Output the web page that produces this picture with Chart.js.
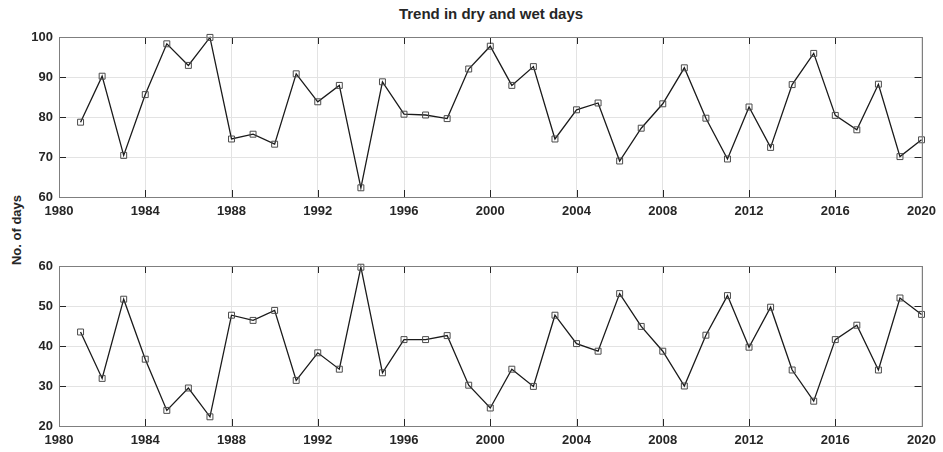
<!DOCTYPE html>
<html>
<head>
<meta charset="utf-8">
<script src="https://cdn.jsdelivr.net/npm/chart.js@4/dist/chart.umd.min.js"></script>
<style>
  body { margin: 0; background: #fff; width: 943px; height: 452px; position: relative; overflow: hidden; font-family: "Liberation Sans", Arial, sans-serif; }
  canvas { position: absolute; left: 0; }
  #title { position: absolute; left: 59px; width: 864px; top: 5px; text-align: center; font-weight: bold; font-size: 15px; color: #262626; }
  #ylabel { position: absolute; left: -83px; top: 222px; width: 200px; height: 16px; line-height: 16px; text-align: center; font-weight: bold; font-size: 13px; color: #262626; transform: rotate(-90deg); }
</style>
</head>
<body>
<div id="title">Trend in dry and wet days</div>
<div id="ylabel">No. of days</div>
<canvas id="dryDays" width="943" height="223" style="top:0"></canvas>
<canvas id="wetDays" width="943" height="223" style="top:229px"></canvas>
<script>
const years = [1981, 1982, 1983, 1984, 1985, 1986, 1987, 1988, 1989, 1990,
  1991, 1992, 1993, 1994, 1995, 1996, 1997, 1998, 1999, 2000,
  2001, 2002, 2003, 2004, 2005, 2006, 2007, 2008, 2009, 2010,
  2011, 2012, 2013, 2014, 2015, 2016, 2017, 2018, 2019, 2020]

const dryDays = [78.7, 90.2, 70.4, 85.6, 98.3, 92.9, 99.9, 74.5, 75.7, 73.2,
  90.8, 83.8, 87.9, 62.3, 88.8, 80.7, 80.5, 79.6, 92.0, 97.7,
  87.9, 92.6, 74.5, 81.8, 83.5, 69.0, 77.2, 83.3, 92.3, 79.7,
  69.5, 82.5, 72.4, 88.1, 95.9, 80.4, 76.8, 88.2, 70.1, 74.3]

const wetDays = [43.5, 31.9, 51.7, 36.7, 23.9, 29.5, 22.3, 47.7, 46.4, 48.9,
  31.4, 38.3, 34.2, 59.7, 33.3, 41.6, 41.6, 42.6, 30.2, 24.5,
  34.2, 29.9, 47.7, 40.6, 38.7, 53.1, 44.9, 38.7, 30.0, 42.7,
  52.6, 39.7, 49.7, 34.0, 26.2, 41.6, 45.2, 34.0, 52.0, 47.9]

const xTicksStep = 4

// matlab style box with inward tick marks
const boxTicks = {
  id: 'boxTicks',
  afterDraw(chart) {
    const ctx = chart.ctx
    const a = chart.chartArea
    const x = chart.scales.x, y = chart.scales.y
    ctx.save()
    ctx.strokeStyle = '#262626'
    ctx.lineWidth = 1
    ctx.beginPath()
    x.ticks.forEach(t => {
      const px = Math.round(x.getPixelForValue(t.value)) + 0.5
      ctx.moveTo(px, a.bottom); ctx.lineTo(px, a.bottom - 7)
      ctx.moveTo(px, a.top); ctx.lineTo(px, a.top + 7)
    })
    y.ticks.forEach(t => {
      const py = Math.round(y.getPixelForValue(t.value)) + 0.5
      ctx.moveTo(a.left, py); ctx.lineTo(a.left + 7, py)
      ctx.moveTo(a.right, py); ctx.lineTo(a.right - 7, py)
    })
    ctx.stroke()
    ctx.strokeStyle = '#7f7f7f'
    ctx.strokeRect(Math.round(a.left) + 0.5, Math.round(a.top) + 0.5, Math.round(a.right - a.left), Math.round(a.bottom - a.top))
    ctx.restore()
  }
}

function makeChart(id, values, yMin, yMax) {
  return new Chart(document.getElementById(id), {
    type: 'line',
    data: {
      datasets: [{
        data: years.map((yr, i) => ({ x: yr, y: values[i] })),
        borderColor: '#1a1a1a',
        borderWidth: 1.3,
        pointStyle: 'rect',
        pointRadius: 4.2,
        pointBorderColor: '#4a4a4a',
        pointBorderWidth: 1,
        pointBackgroundColor: 'rgba(0,0,0,0)',
        tension: 0,
        clip: false
      }]
    },
    options: {
      responsive: false,
      animation: false,
      layout: { padding: { top: 37, right: 20, bottom: 0, left: 0 } },
      plugins: { legend: { display: false }, tooltip: { enabled: false } },
      scales: {
        x: {
          type: 'linear', min: 1980, max: 2020,
          afterFit: s => { s.height = 26 },
          grid: { color: '#e3e3e3', drawTicks: false },
          border: { display: false },
          ticks: {
            stepSize: xTicksStep, padding: 7, color: '#262626',
            font: { family: 'Liberation Sans', size: 13, weight: 'bold' },
            callback: v => String(v)
          }
        },
        y: {
          min: yMin, max: yMax,
          afterFit: s => { s.width = 59 },
          grid: { color: '#e3e3e3', drawTicks: false },
          border: { display: false },
          ticks: {
            stepSize: 10, padding: 6, color: '#262626',
            font: { family: 'Liberation Sans', size: 13, weight: 'bold' }
          }
        }
      }
    },
    plugins: [boxTicks]
  })
}

makeChart('dryDays', dryDays, 60, 100)
makeChart('wetDays', wetDays, 20, 60)
</script>
</body>
</html>
